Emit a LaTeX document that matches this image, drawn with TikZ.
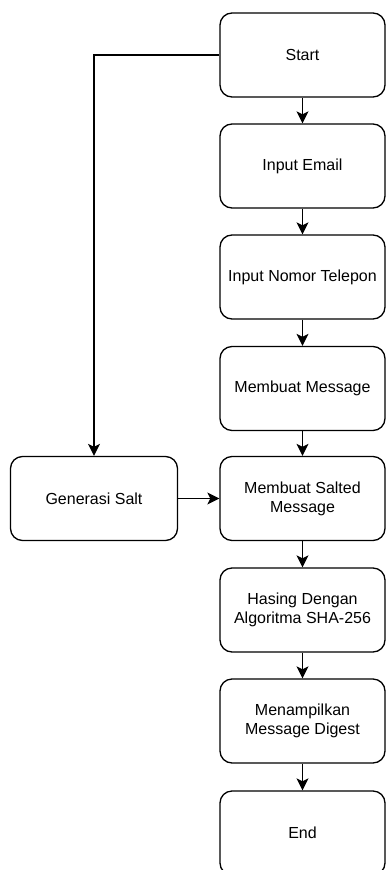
\documentclass[tikz,border=0pt]{standalone}
\usepackage{fontspec}
\setmainfont{Liberation Sans}
\usetikzlibrary{arrows.meta}

\begin{document}
\begin{tikzpicture}[x=1pt,y=-1pt, line width=1.3pt,
    box/.style={draw, rounded corners=12pt, minimum width=165pt, minimum height=84pt,
      align=center, inner sep=0pt, font=\fontsize{16}{19}\selectfont},
    arr/.style={-{Stealth[length=12pt,width=12pt,inset=3pt]}}]
      \useasboundingbox (0,0) rectangle (386,870);
      \node[box] (start) at (302.5,55) {Start};
      \node[box] (email) at (302.5,166) {Input Email};
      \node[box] (telp) at (302.5,277) {Input Nomor Telepon};
      \node[box] (msg) at (302.5,388.5) {Membuat Message};
      \node[box] (salted) at (302.5,498.5) {Membuat Salted\\Message};
      \node[box] (hash) at (302.5,610) {Hasing Dengan\\Algoritma SHA-256};
      \node[box] (digest) at (302.5,721) {Menampilkan\\Message Digest};
      \node[box] (end) at (302.5,833) {End};
      \node[box, minimum width=167pt] (salt) at (94,498.5) {Generasi Salt};
      % alur utama
      \draw[arr] (start) -- (email);
      \draw[arr] (email) -- (telp);
      \draw[arr] (telp) -- (msg);
      \draw[arr] (msg) -- (salted);
      \draw[arr] (salted) -- (hash);
      \draw[arr] (hash) -- (digest);
      \draw[arr] (digest) -- (end);
      % cabang salt
      \draw[arr] (start.west) -| (salt.north);
      \draw[arr] (salt) -- (salted);
\end{tikzpicture}
\end{document}
